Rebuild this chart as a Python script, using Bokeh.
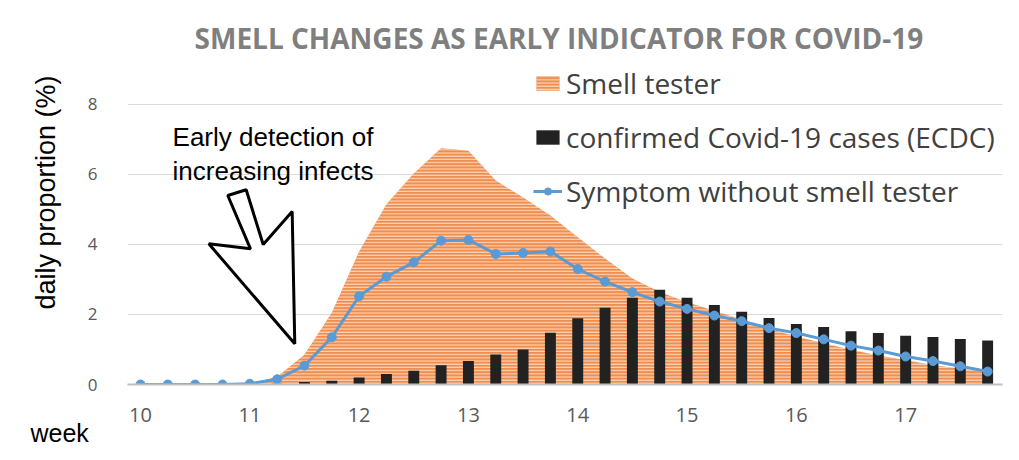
from bokeh.plotting import figure
from bokeh.models import Range1d, Label, Legend, LegendItem, ColumnDataSource, Title
from bokeh.embed import file_html
from bokeh.resources import INLINE

# ---- data ----
weeks = [10.0, 10.25, 10.5, 10.75, 11.0, 11.25, 11.5, 11.75,
         12.0, 12.25, 12.5, 12.75, 13.0, 13.25, 13.5, 13.75,
         14.0, 14.25, 14.5, 14.75, 15.0, 15.25, 15.5, 15.75,
         16.0, 16.25, 16.5, 16.75, 17.0, 17.25, 17.5, 17.75]
smell_tester = [0, 0, 0, 0, 0.02, 0.22, 0.85, 2.05,
                3.80, 5.15, 6.03, 6.75, 6.68, 5.83, 5.34, 4.83,
                4.21, 3.60, 3.03, 2.64, 2.35, 2.11, 1.85, 1.59,
                1.37, 1.18, 0.99, 0.83, 0.69, 0.56, 0.45, 0.35]
confirmed_cases = [0, 0, 0, 0, 0, 0.02, 0.07, 0.11,
                   0.20, 0.30, 0.39, 0.55, 0.67, 0.86, 1.00, 1.48,
                   1.89, 2.19, 2.48, 2.71, 2.48, 2.27, 2.08, 1.90,
                   1.73, 1.64, 1.52, 1.47, 1.39, 1.36, 1.30, 1.26]
symptom_no_tester = [0, 0, 0, 0, 0.02, 0.15, 0.54, 1.35,
                     2.52, 3.08, 3.49, 4.11, 4.13, 3.73, 3.76, 3.80,
                     3.30, 2.94, 2.64, 2.37, 2.16, 1.97, 1.81, 1.61,
                     1.47, 1.29, 1.11, 0.97, 0.80, 0.67, 0.52, 0.37]
week_ticks = [10, 11, 12, 13, 14, 15, 16, 17]
y_ticks = [0, 2, 4, 6, 8]

title_text = "SMELL CHANGES AS EARLY INDICATOR FOR COVID-19"
note_lines = ["Early detection of", "increasing infects"]
series_names = ["Smell tester", "confirmed Covid-19 cases (ECDC)", "Symptom without smell tester"]

# hollow arrow annotation outline (data coordinates)
arrow_x = [10.7985, 10.9668, 11.1223, 11.3875, 11.4113, 10.6247, 11.0061]
arrow_y = [5.40, 5.563, 4.00, 4.943, 1.163, 4.02, 3.877]

src = ColumnDataSource(dict(week=weeks, smell=smell_tester, cases=confirmed_cases,
                            sym=symptom_no_tester, zero=[0] * len(weeks)))

p = figure(width=1019, height=460, output_backend="svg", toolbar_location=None,
           x_range=Range1d(9.881, 17.886), y_range=Range1d(0, 10.971),
           min_border_left=127, min_border_right=17, min_border_top=0, min_border_bottom=76)
p.outline_line_color = None
p.background_fill_color = "white"
p.border_fill_color = "white"

p.xgrid.visible = False
p.yaxis.ticker = y_ticks
p.ygrid.grid_line_color = "#d9d9d9"
p.ygrid.grid_line_width = 1

p.yaxis.axis_line_color = None
p.yaxis.major_tick_line_color = None
p.yaxis.minor_tick_line_color = None
p.yaxis.major_label_standoff = 24
p.yaxis.major_label_text_font = "Open Sans"
p.yaxis.major_label_text_font_size = "17px"
p.yaxis.major_label_text_color = "#595959"
p.yaxis.axis_label = "daily proportion (%)"
p.yaxis.axis_label_text_font = "Liberation Sans"
p.yaxis.axis_label_text_font_size = "27px"
p.yaxis.axis_label_text_font_style = "normal"
p.yaxis.axis_label_text_color = "black"
p.yaxis.axis_label_standoff = 24

p.xaxis.ticker = week_ticks
p.xaxis.axis_line_color = "#bfbfbf"
p.xaxis.axis_line_width = 2
p.xaxis.major_tick_line_color = None
p.xaxis.minor_tick_line_color = None
p.xaxis.major_label_standoff = 17
p.xaxis.major_label_text_font = "Open Sans"
p.xaxis.major_label_text_font_size = "20px"
p.xaxis.major_label_text_color = "#595959"

area = p.varea(x="week", y1="zero", y2="smell", source=src,
               fill_color="#EF8D4E", hatch_pattern="horizontal_line",
               hatch_color="#FBDCC6", hatch_weight=1.1, hatch_scale=3.2)
bars = p.vbar(x="week", top="cases", width=0.1, source=src,
              fill_color="#222222", line_color=None)
line = p.line(x="week", y="sym", source=src, line_color="#5B9BD5", line_width=3)
marks = p.scatter(x="week", y="sym", source=src, size=9,
                  fill_color="#5B9BD5", line_color="#5B9BD5")

legend = Legend(items=[LegendItem(label=series_names[0], renderers=[area]),
                       LegendItem(label=series_names[1], renderers=[bars]),
                       LegendItem(label=series_names[2], renderers=[line, marks])],
                location=(406, 174), orientation="vertical",
                glyph_width=29, glyph_height=18, label_standoff=4, spacing=16,
                padding=0, margin=0, border_line_color=None, background_fill_alpha=0,
                label_text_font="Open Sans", label_text_font_size="28px",
                label_text_color="#404040", label_height=30)
p.add_layout(legend)

# arrow annotation
p.patch(arrow_x, arrow_y, fill_color="white", line_color="black", line_width=3)

p.add_layout(Label(x=13.828, y=9.886, text=title_text, text_align="center",
                   text_baseline="alphabetic", text_font="Open Sans", text_font_style="bold",
                   text_font_size="28px", text_color="#7f7f7f"))
p.add_layout(Label(x=10.293, y=7.057, text=note_lines[0], text_align="left",
                   text_baseline="alphabetic", text_font="Liberation Sans",
                   text_font_size="26px", text_color="black"))
p.add_layout(Label(x=10.293, y=6.114, text=note_lines[1], text_align="left",
                   text_baseline="alphabetic", text_font="Liberation Sans",
                   text_font_size="26px", text_color="black"))

week_title = Title(text="week", align="left", offset=-97, standoff=-15,
                   text_font="Liberation Sans", text_font_size="25px",
                   text_font_style="normal", text_color="black")
p.add_layout(week_title, "below")

open("out.html", "w").write(file_html(p, INLINE))
